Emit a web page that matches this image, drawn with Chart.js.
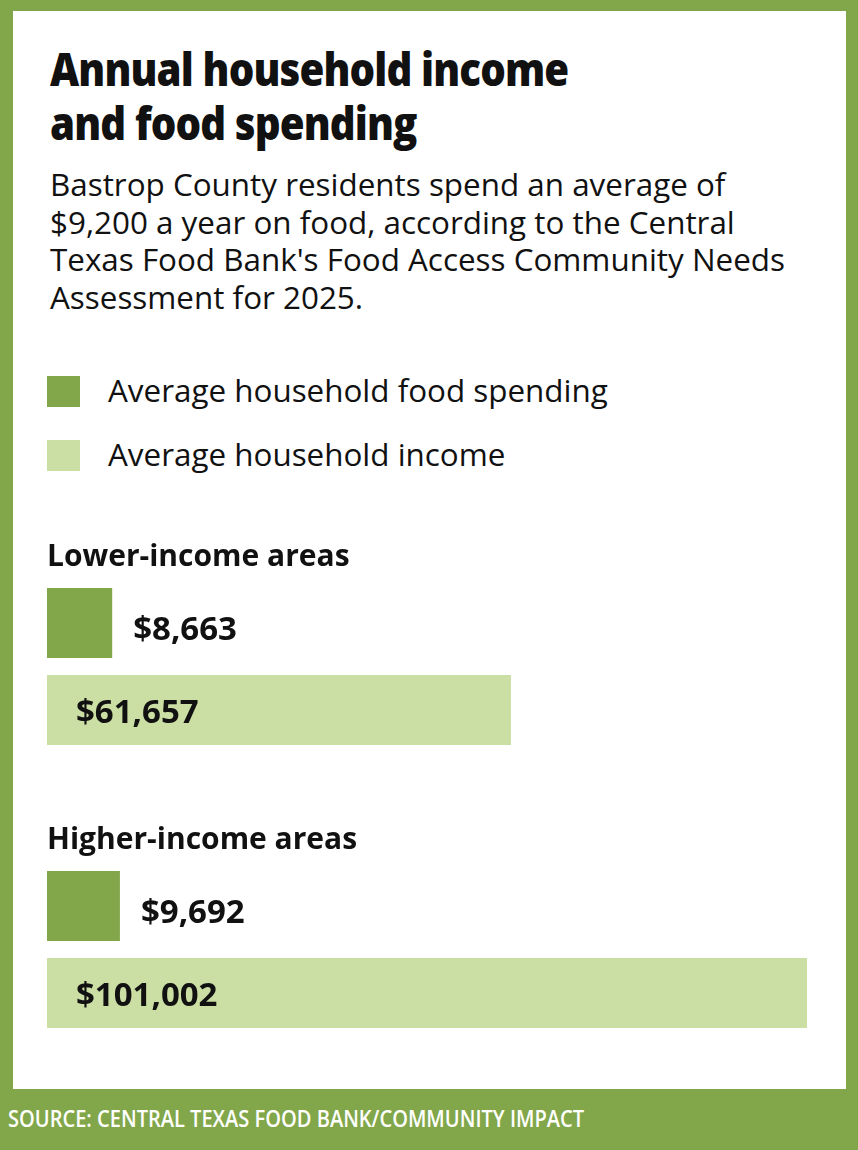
<!DOCTYPE html>
<html>
<head>
<meta charset="utf-8">
<script src="https://cdn.jsdelivr.net/npm/chart.js@4.4.1/dist/chart.umd.min.js"></script>
<style>
  html, body { margin: 0; padding: 0; }
  body {
    width: 858px; height: 1150px; position: relative; overflow: hidden;
    background: #82a74a; font-family: "Open Sans", sans-serif; color: #111;
  }
  #panel { position: absolute; left: 13px; top: 11px; width: 833px; height: 1078px; background: #fff; }
  .txt { position: absolute; white-space: nowrap; transform-origin: 0 0; }
  #title { left: 50px; top: 41px; font-size: 46px; line-height: 54px; font-weight: 800; letter-spacing: -1px; transform: scaleX(0.875); }
  #subtitle { left: 50px; top: 165px; font-size: 31.4px; line-height: 37.5px; font-weight: 400; }
  #legend { position: absolute; left: 47px; top: 376px; }
  .item { position: relative; height: 64px; }
  .swatch { position: absolute; left: 0; top: 0; width: 33px; height: 31px; }
  .label { position: absolute; left: 61px; top: -6px; font-size: 31.4px; line-height: 40px; white-space: nowrap; }
  #chartBox { position: absolute; left: 47px; top: 525px; width: 760px; height: 566px; }
  #source { left: 8px; top: 1103px; font-size: 24px; line-height: 30px; font-weight: 600; color: #fff; transform: scaleX(0.835); }
</style>
</head>
<body>
<div id="panel"></div>
<div id="title" class="txt">Annual household income<br>and food spending</div>
<div id="subtitle" class="txt">Bastrop County residents spend an average of<br>$9,200 a year on food, according to the Central<br>Texas Food Bank's Food Access Community Needs<br>Assessment for 2025.</div>
<div id="legend"></div>
<div id="chartBox"><canvas id="incomeChart"></canvas></div>
<div id="source" class="txt">SOURCE: CENTRAL TEXAS FOOD BANK/COMMUNITY IMPACT</div>

<script>
// Data
const categories = ['Lower-income areas', 'Higher-income areas'];
const seriesNames = ['Average household food spending', 'Average household income'];
const foodSpending = [8663, 9692];
const householdIncome = [61657, 101002];

const darkGreen = '#82a74a';
const lightGreen = '#cbdea3';

// legend built from the series
const legend = document.getElementById('legend');
[darkGreen, lightGreen].forEach((color, i) => {
    const item = document.createElement('div');
    item.className = 'item';
    item.innerHTML = '<div class="swatch" style="background:' + color + '"></div>' +
        '<div class="label">' + seriesNames[i] + '</div>';
    legend.appendChild(item);
});

const money = v => '$' + v.toLocaleString('en-US');

// group headings and value labels
const barLabels = {
    id: 'barLabels',
    afterDatasetsDraw(chart) {
        const ctx = chart.ctx;
        const left = chart.chartArea.left;
        const food = chart.getDatasetMeta(0).data;
        const income = chart.getDatasetMeta(1).data;

        ctx.save();
        ctx.fillStyle = '#111';
        ctx.textAlign = 'left';
        ctx.textBaseline = 'alphabetic';

        // category headings above each group
        ctx.font = 'bold 30px "Open Sans"';
        food.forEach((bar, i) => {
            const top = bar.y - bar.height / 2;
            ctx.fillText(categories[i], left, top - 22);
        });

        ctx.font = 'bold 33px "Open Sans"';
        food.forEach((bar, i) => {
            ctx.fillText(money(foodSpending[i]), bar.x + 21, bar.y + 17);
        });
        income.forEach((bar, i) => {
            ctx.fillText(money(householdIncome[i]), bar.base + 29, bar.y + 13);
        });
        ctx.restore();
    }
};

new Chart(document.getElementById('incomeChart'), {
    type: 'bar',
    data: {
        labels: categories,
        datasets: [{
            label: seriesNames[0],
            data: foodSpending,
            backgroundColor: darkGreen,
            barPercentage: 0.805,
            categoryPercentage: 0.615
        }, {
            label: seriesNames[1],
            data: householdIncome,
            backgroundColor: lightGreen,
            barPercentage: 0.805,
            categoryPercentage: 0.615
        }]
    },
    options: {
        indexAxis: 'y',
        responsive: true,
        maintainAspectRatio: false,
        animation: false,
        layout: { padding: 0 },
        scales: {
            x: { display: false, min: 0, max: Math.max(...householdIncome) },
            y: { display: false }
        },
        plugins: {
            legend: { display: false },
            tooltip: { enabled: false }
        }
    },
    plugins: [barLabels]
});
</script>
</body>
</html>
